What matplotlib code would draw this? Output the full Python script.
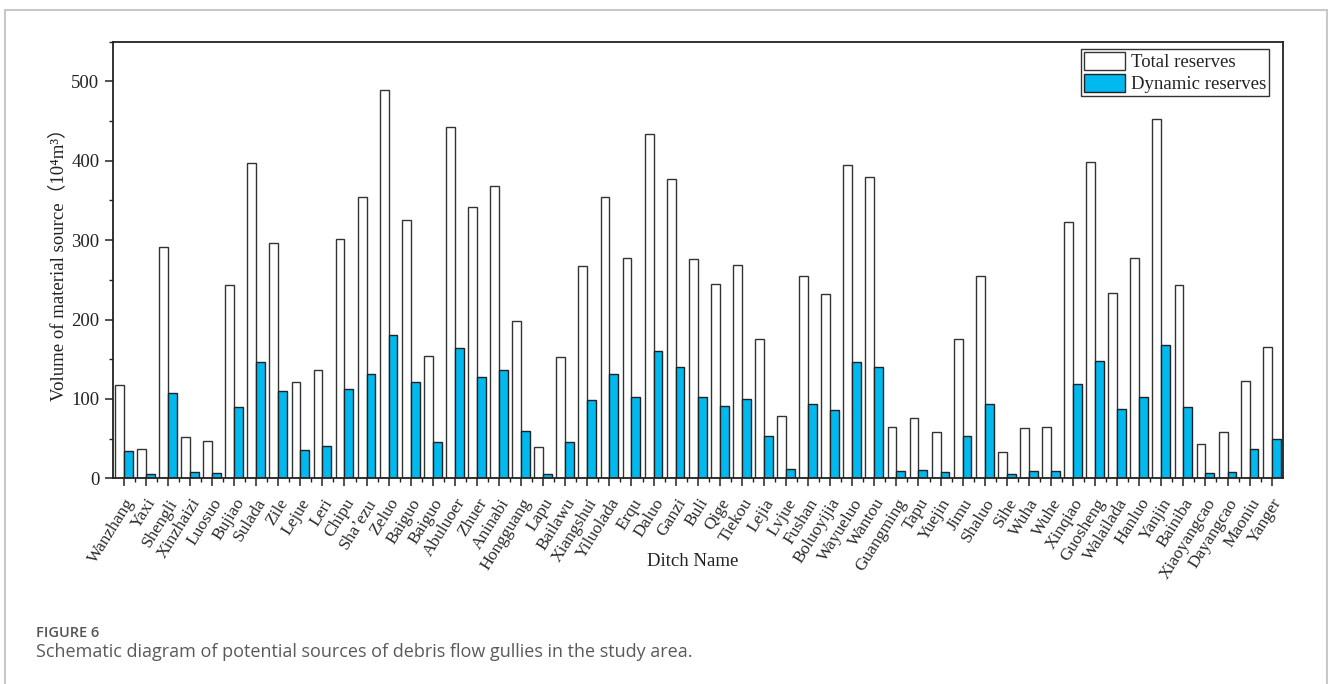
import matplotlib
matplotlib.use("Agg")
import matplotlib.pyplot as plt
import numpy as np
from matplotlib.patches import Rectangle
from matplotlib.ticker import MultipleLocator, FixedLocator

# Debris-flow gullies and their material-source volumes (10^4 m^3)
ditches = [
    "Wanzhang", "Yaxi", "Shengli", "Xinzhaizi", "Luosuo", "Bujiao", "Sulada",
    "Zile", "Lejue", "Leri", "Chipu", "Sha\u2019ezu", "Zeluo", "Baiguo",
    "Baiguo", "Abuluoer", "Zhuer", "Aninabi", "Hongguang", "Lapu", "Bailawu",
    "Xiangshui", "Yiluolada", "Erqu", "Daluo", "Ganzi", "Buli", "Qige",
    "Tiekou", "Lejia", "Lvjue", "Fushan", "Boluoyijia", "Wayueluo", "Wantou",
    "Guangming", "Tapu", "Yuejin", "Jimu", "Shaluo", "Sihe", "Wuha", "Wuhe",
    "Xinqiao", "Guosheng", "Walailada", "Hanluo", "Yanjin", "Bainiba",
    "Xiaoyangcao", "Dayangcao", "Maoniu", "Yanger",
]

total_reserves = [
    117, 37, 292, 52, 47, 243, 397, 297, 121, 137, 301, 354, 489, 325,
    154, 443, 342, 368, 198, 40, 153, 267, 354, 278, 434, 377, 276, 245,
    269, 176, 79, 255, 232, 395, 379, 64, 76, 58, 176, 255, 33, 63, 64,
    323, 399, 234, 277, 453, 243, 43, 58, 123, 165,
]

dynamic_reserves = [
    35, 5, 108, 7.5, 7, 90, 147, 110, 36, 41, 112, 131, 181, 121,
    46, 164, 127, 136, 59, 6, 46, 99, 131, 103, 160, 140, 102, 91,
    100, 53, 12, 94, 86, 146, 140, 9, 11, 8.5, 53, 94, 5, 9, 9.5,
    119, 148, 87, 102, 168, 90, 6.5, 8.5, 37, 49.5,
]

serif = "Liberation Serif"
plt.rcParams["font.family"] = [serif, "Noto Sans CJK SC", "DejaVu Sans"]

ink = "#222222"
blue = "#00B9EF"

fig = plt.figure(figsize=(13.28, 6.84), dpi=100)
ax = fig.add_axes([0.08486, 0.30073, 0.88104, 0.63831])

x = np.arange(len(ditches))
w = 0.4
ax.bar(x - w / 2, total_reserves, width=w, color="white", edgecolor="#333333",
       linewidth=1.0, label="Total reserves", zorder=2)
ax.bar(x + w / 2, dynamic_reserves, width=w, color=blue, edgecolor="#222222",
       linewidth=1.0, label="Dynamic reserves", zorder=2)

ax.set_xlim(-0.5, len(ditches) - 0.5)
ax.set_ylim(0, 550)

ax.yaxis.set_major_locator(FixedLocator([0, 100, 200, 300, 400, 500]))
ax.yaxis.set_minor_locator(MultipleLocator(50))
ax.set_xticks(x)
ax.xaxis.set_minor_locator(FixedLocator(x[:-1] + 0.5))
ax.set_xticklabels(ditches, rotation=58, ha="right", va="top",
                   rotation_mode="anchor", fontsize=12.5, color="#2a2a2a")

ax.tick_params(axis="both", which="major", direction="out", length=5.5,
               width=1.1, color=ink, top=False, right=False)
ax.tick_params(axis="both", which="minor", direction="out", length=3,
               width=1.0, color=ink, top=False, right=False)
ax.tick_params(axis="y", labelsize=13.5, labelcolor=ink, pad=4)
ax.tick_params(axis="x", pad=7)

for s in ax.spines.values():
    s.set_linewidth(1.3)
    s.set_color(ink)

ax.set_ylabel("Volume of material source\uff0810\u2074m\u00b3\uff09", fontsize=13.5,
              color=ink, labelpad=3)
ax.set_xlabel("Ditch Name", fontsize=13.5, color=ink)
ax.xaxis.set_label_coords(0.496, -0.172)

leg = ax.legend(loc="upper right", bbox_to_anchor=(0.9883, 0.9833),
                borderaxespad=0, fancybox=False, edgecolor="#333333",
                framealpha=1, fontsize=13.5, handlelength=2.2, handleheight=1.1,
                labelspacing=0.15, borderpad=0.15, handletextpad=0.3)
leg.get_frame().set_linewidth(1.0)
for t in leg.get_texts():
    t.set_color(ink)

# outer figure panel border
fig.add_artist(Rectangle((4.5 / 1328, -0.05), 1322 / 1328, 1.05 - 9.5 / 684,
                         transform=fig.transFigure, fill=False,
                         edgecolor="#c8c8c8", linewidth=1.5))

fig.text(36 / 1328, 1 - 637 / 684, "FIGURE 6", family="Open Sans",
         fontsize=10.5, fontweight="semibold", color="#555555")
fig.text(36 / 1328, 1 - 657 / 684,
         "Schematic diagram of potential sources of debris flow gullies in the study area.",
         family="Open Sans", fontsize=13, color="#5a5a5a")

fig.savefig("out.png", dpi=100)
